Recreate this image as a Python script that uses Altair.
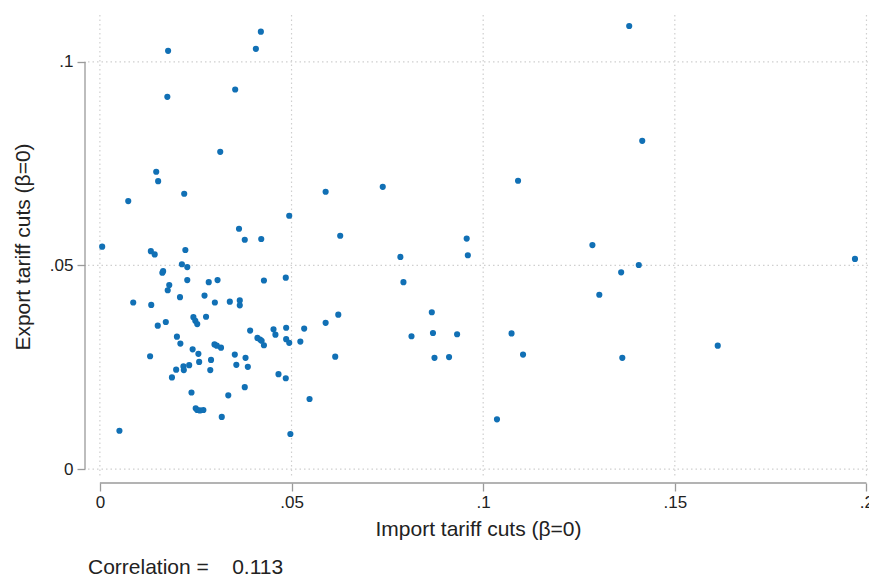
import altair as alt
import pandas as pd

import_cuts = [
    0.0178, 0.0176, 0.0420, 0.0407, 0.0353, 0.0314, 0.0147, 0.0152, 0.0220, 0.0074,
    0.0494, 0.0363, 0.0378, 0.0421, 0.0589, 0.0627, 0.0006, 0.0133, 0.0143, 0.0223,
    0.0214, 0.0228, 0.0165, 0.0163, 0.0228, 0.0284, 0.0307, 0.0428, 0.0485, 0.0181,
    0.0177, 0.0209, 0.0273, 0.0087, 0.0134, 0.0300, 0.0339, 0.0365, 0.0365, 0.0277,
    0.0244, 0.0249, 0.0254, 0.0151, 0.0172, 0.0589, 0.0622, 0.0392, 0.0453, 0.0458,
    0.0486, 0.0533, 0.0411, 0.0418, 0.0422, 0.0428, 0.0486, 0.0494, 0.0523, 0.0201,
    0.0210, 0.0299, 0.0305, 0.0316, 0.0242, 0.0257, 0.0259, 0.0290, 0.0352, 0.0380,
    0.0356, 0.0386, 0.0131, 0.0233, 0.0218, 0.0219, 0.0199, 0.0188, 0.0288, 0.0466,
    0.0485, 0.0378, 0.0239, 0.0335, 0.0547, 0.0250, 0.0254, 0.0261, 0.0270, 0.0318,
    0.0051, 0.0497, 0.0614, 0.0738, 0.1091, 0.0957, 0.0960, 0.0784, 0.0792, 0.0866,
    0.0869, 0.0932, 0.0813, 0.0873, 0.0911, 0.1074, 0.1104, 0.1036, 0.1381, 0.1415,
    0.1285, 0.1406, 0.1360, 0.1303, 0.1970, 0.1612, 0.1363,
]
export_cuts = [
    0.1027, 0.0914, 0.1074, 0.1032, 0.0932, 0.0779, 0.0730, 0.0707, 0.0676, 0.0658,
    0.0622, 0.0590, 0.0563, 0.0565, 0.0681, 0.0573, 0.0546, 0.0535, 0.0527, 0.0538,
    0.0503, 0.0496, 0.0486, 0.0482, 0.0464, 0.0459, 0.0464, 0.0463, 0.0470, 0.0452,
    0.0439, 0.0422, 0.0426, 0.0409, 0.0403, 0.0409, 0.0411, 0.0414, 0.0402, 0.0374,
    0.0373, 0.0364, 0.0356, 0.0352, 0.0361, 0.0359, 0.0379, 0.0340, 0.0343, 0.0330,
    0.0347, 0.0345, 0.0322, 0.0318, 0.0315, 0.0304, 0.0319, 0.0310, 0.0313, 0.0325,
    0.0308, 0.0306, 0.0303, 0.0298, 0.0294, 0.0283, 0.0263, 0.0268, 0.0281, 0.0273,
    0.0256, 0.0251, 0.0277, 0.0255, 0.0252, 0.0243, 0.0244, 0.0225, 0.0243, 0.0233,
    0.0223, 0.0201, 0.0188, 0.0181, 0.0172, 0.0149, 0.0145, 0.0144, 0.0145, 0.0128,
    0.0094, 0.0086, 0.0276, 0.0693, 0.0708, 0.0566, 0.0525, 0.0521, 0.0459, 0.0385,
    0.0334, 0.0331, 0.0326, 0.0273, 0.0275, 0.0333, 0.0281, 0.0122, 0.1088, 0.0806,
    0.0550, 0.0501, 0.0483, 0.0428, 0.0516, 0.0303, 0.0273,
]
x_ticks = [0, 0.05, 0.1, 0.15, 0.2]
y_ticks = [0, 0.05, 0.1]
x_title = "Import tariff cuts (β=0)"
y_title = "Export tariff cuts (β=0)"
note = "Correlation =\u00a0\u00a0\u00a0\u00a00.113"

FONT = "Liberation Sans"
W, H = 780, 463
DOT = "#1170b5"
AXIS_GRAY = "#9a9a9a"
GRID_GRAY = "#cfcfcf"

df = pd.DataFrame({"imp": import_cuts, "exp": export_cuts})
xgrid = pd.DataFrame({"imp": x_ticks})
ygrid = pd.DataFrame({"exp": y_ticks})
xline = pd.DataFrame({"imp": [min(x_ticks)], "imp2": [max(x_ticks)]})
yline = pd.DataFrame({"exp": [min(y_ticks)], "exp2": [max(y_ticks)]})

xscale = alt.Scale(domain=[-0.0031, 0.2004], nice=False, zero=False)
yscale = alt.Scale(domain=[-0.0022, 0.1115], nice=False, zero=False)
label_expr = "datum.value == 0 ? '0' : slice(format(datum.value, '.2~f'), 1)"

x_axis = alt.Axis(
    values=x_ticks, offset=5, domain=False, grid=False,
    tickSize=8, tickColor=AXIS_GRAY, tickWidth=1.3,
    labelExpr=label_expr, labelFont=FONT, labelFontSize=17, labelColor="#222222",
    labelPadding=3, labelOverlap=False, labelFlush=False,
    titleFont=FONT, titleFontSize=21, titleFontWeight="normal", titleColor="#222222",
    titlePadding=8,
)
y_axis = alt.Axis(
    values=y_ticks, offset=3, domain=False, grid=False,
    tickSize=8, tickColor=AXIS_GRAY, tickWidth=1.3,
    labelExpr=label_expr, labelFont=FONT, labelFontSize=17, labelColor="#222222",
    labelPadding=4, labelOverlap=False, labelFlush=False,
    titleFont=FONT, titleFontSize=21, titleFontWeight="normal", titleColor="#222222",
    titlePadding=16,
)

base = alt.Chart(df)

points = base.mark_circle(size=38, color=DOT, opacity=1).encode(
    x=alt.X("imp:Q", scale=xscale, axis=x_axis, title=x_title),
    y=alt.Y("exp:Q", scale=yscale, axis=y_axis, title=y_title),
)

vgrid = alt.Chart(xgrid).mark_rule(color=GRID_GRAY, strokeDash=[1.5, 3], strokeWidth=1.2).encode(
    x=alt.X("imp:Q", scale=xscale, axis=x_axis, title=x_title)
)
hgrid = alt.Chart(ygrid).mark_rule(color=GRID_GRAY, strokeDash=[1.5, 3], strokeWidth=1.2).encode(
    y=alt.Y("exp:Q", scale=yscale, axis=y_axis, title=y_title)
)
yaxis_line = alt.Chart(yline).mark_rule(color=AXIS_GRAY, strokeWidth=1.3).encode(
    y=alt.Y("exp:Q", scale=yscale, axis=y_axis, title=y_title), y2="exp2:Q", x=alt.value(-3)
)
xaxis_line = alt.Chart(xline).mark_rule(color=AXIS_GRAY, strokeWidth=1.3).encode(
    x=alt.X("imp:Q", scale=xscale, axis=x_axis, title=x_title), x2="imp2:Q", y=alt.value(H + 5)
)

chart = alt.layer(vgrid, hgrid, yaxis_line, xaxis_line, points).properties(
    width=W,
    height=H,
    background="white",
    title=alt.TitleParams(
        note, orient="bottom", anchor="start", frame="group", font=FONT, fontSize=21,
        fontWeight="normal", color="#222222", offset=18,
    ),
    autosize=alt.AutoSizeParams(type="none"),
    padding={"left": 88, "top": 15, "right": 869 - 88 - W, "bottom": 578 - 15 - H},
).configure_view(stroke=None)

chart.save("out.html", embed_options={"renderer": "svg", "actions": False})
